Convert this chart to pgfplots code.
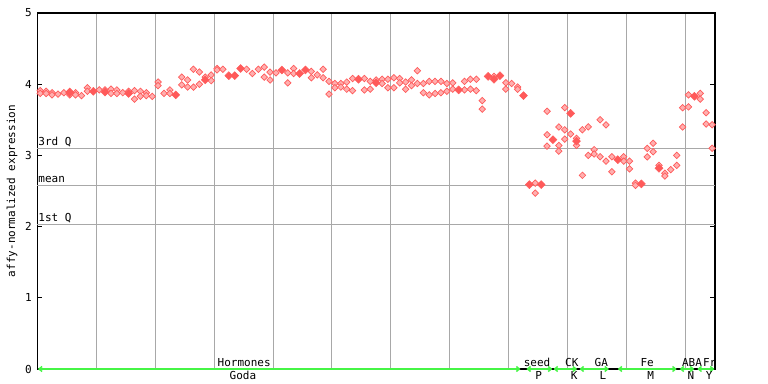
\documentclass[border=0pt]{standalone}
\usepackage{fontspec}
\setmainfont{DejaVu Sans Mono}
\usepackage{pgfplots}
\pgfplotsset{compat=1.18}
\usetikzlibrary{arrows.meta}
\definecolor{pt}{RGB}{255,90,90}
\definecolor{ptl}{RGB}{255,175,175}
\definecolor{grd}{RGB}{168,168,168}
\definecolor{grn}{RGB}{70,245,70}
\pgfplotstableread{
x y
0.5 3.91
0.5 3.87
1.5 3.90
1.5 3.87
2.5 3.88
2.5 3.85
3.5 3.86
4.5 3.88
5.5 3.90
5.5 3.85
6.5 3.88
6.5 3.85
7.5 3.84
8.5 3.95
8.5 3.90
10.5 3.92
11.5 3.92
12.5 3.93
12.5 3.87
13.5 3.92
13.5 3.87
14.5 3.88
15.5 3.90
16.5 3.91
16.5 3.79
17.5 3.90
17.5 3.83
18.5 3.88
18.5 3.84
19.5 3.83
20.5 4.03
20.5 3.98
21.5 3.87
22.5 3.92
22.5 3.87
24.5 4.10
24.5 3.99
25.5 4.06
25.5 3.96
26.5 4.21
26.5 3.96
27.5 4.17
27.5 4.00
28.5 4.10
29.5 4.13
29.5 4.05
30.5 4.22
30.5 4.20
31.5 4.21
35.5 4.21
36.5 4.15
37.5 4.21
38.5 4.24
38.5 4.10
39.5 4.17
39.5 4.06
40.5 4.16
42.5 4.16
42.5 4.02
43.5 4.22
43.5 4.15
46.5 4.18
46.5 4.09
47.5 4.13
48.5 4.21
48.5 4.09
49.5 4.04
49.5 3.86
50.5 4.01
50.5 3.95
51.5 4.01
51.5 3.96
52.5 4.03
52.5 3.93
53.5 4.08
53.5 3.91
55.5 4.08
55.5 3.92
56.5 4.04
56.5 3.93
57.5 4.06
58.5 4.07
58.5 4.01
59.5 4.07
59.5 3.95
60.5 4.09
60.5 3.95
61.5 4.08
61.5 4.02
62.5 4.03
62.5 3.93
63.5 4.06
63.5 3.98
64.5 4.19
64.5 4.01
65.5 4.01
65.5 3.88
66.5 4.04
66.5 3.85
67.5 4.04
67.5 3.87
68.5 4.04
68.5 3.88
69.5 4.01
69.5 3.90
70.5 4.02
70.5 3.93
72.5 4.04
72.5 3.92
73.5 4.07
73.5 3.93
74.5 4.07
74.5 3.91
75.5 3.77
75.5 3.65
77.5 4.11
79.5 4.02
79.5 3.93
80.5 4.01
81.5 3.96
81.5 3.93
84.5 2.61
84.5 2.47
86.5 3.62
86.5 3.29
86.5 3.13
88.5 3.40
88.5 3.14
88.5 3.06
89.5 3.67
89.5 3.36
89.5 3.23
90.5 3.30
91.5 3.24
91.5 3.14
92.5 3.36
92.5 2.72
93.5 3.40
93.5 3.00
94.5 3.08
94.5 3.02
95.5 3.50
95.5 2.98
96.5 3.43
96.5 2.92
97.5 2.98
97.5 2.77
99.5 2.98
99.5 2.92
100.5 2.92
100.5 2.81
101.5 2.61
101.5 2.58
103.5 3.10
103.5 2.98
104.5 3.17
104.5 3.05
105.5 2.86
106.5 2.75
106.5 2.71
107.5 2.80
108.5 3.00
108.5 2.86
109.5 3.67
109.5 3.40
110.5 3.85
110.5 3.68
112.5 3.87
112.5 3.79
113.5 3.60
113.5 3.44
114.5 3.43
114.5 3.10
}\hatched
\pgfplotstableread{
x y
5.5 3.88
9.5 3.90
11.5 3.89
15.5 3.87
23.5 3.85
28.5 4.06
32.5 4.12
33.5 4.12
34.5 4.22
41.5 4.20
44.5 4.15
45.5 4.20
54.5 4.07
57.5 4.02
71.5 3.92
76.5 4.11
77.5 4.07
78.5 4.12
82.5 3.84
83.5 2.59
85.5 2.59
87.5 3.22
90.5 3.59
91.5 3.20
98.5 2.94
102.5 2.60
105.5 2.82
111.5 3.83
}\solid
\begin{document}
\begin{tikzpicture}[font=\fontsize{11bp}{13bp}\selectfont]
\begin{axis}[
  at={(37.3bp,15bp)}, anchor=south west,
  scale only axis, width=677.7bp, height=356bp,
  xmin=0, xmax=115, ymin=0, ymax=5,
  clip=false,
  xtick={10,20,...,110}, xticklabels={},
  xmajorgrids, xtick style={draw=none},
  major grid style={grd, line width=1bp},
  ytick={0,1,2,3,4,5},
  ytick pos=both, yticklabel pos=left,
  tick align=inside, major tick length=5bp,
  ytick style={black, line width=1bp},
  axis line style={black, line width=1.2bp},
  /pgf/number format/assume math mode=true,
  yticklabel style={font=\fontsize{11bp}{13bp}\selectfont, xshift=-2bp},
  ylabel={affy-normalized expression},
  ylabel style={at={(axis description cs:-0.0373,0.5)}, anchor=center, rotate=0, font=\fontsize{11bp}{13bp}\selectfont},
]
\draw[grd, line width=1bp] (axis cs:0,3.10) -- (axis cs:115,3.10);
\draw[grd, line width=1bp] (axis cs:0,2.58) -- (axis cs:115,2.58);
\draw[grd, line width=1bp] (axis cs:0,2.035) -- (axis cs:115,2.035);
\node[anchor=base west, inner sep=0pt, xshift=1bp, yshift=2.5bp] at (axis cs:0,3.10) {3rd Q};
\node[anchor=base west, inner sep=0pt, xshift=1bp, yshift=2.5bp] at (axis cs:0,2.58) {mean};
\node[anchor=base west, inner sep=0pt, xshift=1bp, yshift=2.5bp] at (axis cs:0,2.035) {1st Q};
\addplot[only marks, mark=square*, mark size=2.3bp,
  mark options={rotate=45, fill=ptl, draw=pt, line width=0.7bp}] table[x=x, y=y] {\hatched};
\addplot[only marks, mark=square*, mark size=2.8bp,
  mark options={rotate=45, fill=pt, draw=pt, line width=0.5bp}] table[x=x, y=y] {\solid};
\begin{scope}[grn, line width=1.5bp, arrows={Straight Barb[length=3bp,width=5bp]-Straight Barb[length=3bp,width=5bp]}]
\draw (axis cs:0.1,0) -- (axis cs:82,0);
\draw (axis cs:83,0) -- (axis cs:87.4,0);
\draw (axis cs:87.6,0) -- (axis cs:91.6,0);
\draw (axis cs:92,0) -- (axis cs:97,0);
\draw (axis cs:98.5,0) -- (axis cs:108.5,0);
\draw (axis cs:109,0) -- (axis cs:111.5,0);
\draw (axis cs:112,0) -- (axis cs:114.9,0);
\end{scope}
\begin{scope}[every node/.style={inner sep=0pt, anchor=base, yshift=3bp}]
\node at (axis cs:35.1,0) {Hormones};
\node at (axis cs:84.8,0) {seed};
\node at (axis cs:90.7,0) {CK};
\node at (axis cs:95.7,0) {GA};
\node at (axis cs:103.5,0) {Fe};
\node at (axis cs:111.1,0) {ABA};
\node at (axis cs:114.1,0) {Fr};
\end{scope}
\begin{scope}[every node/.style={inner sep=0pt, anchor=base, yshift=-10bp}]
\node at (axis cs:34.9,0) {Goda};
\node at (axis cs:85.1,0) {P};
\node at (axis cs:91.1,0) {K};
\node at (axis cs:96,0) {L};
\node at (axis cs:104.1,0) {M};
\node at (axis cs:110.9,0) {N};
\node at (axis cs:114,0) {Y};
\end{scope}
\end{axis}
\pgfresetboundingbox
\path[use as bounding box] (0,0) rectangle (768bp,384bp);
\end{tikzpicture}
\end{document}
